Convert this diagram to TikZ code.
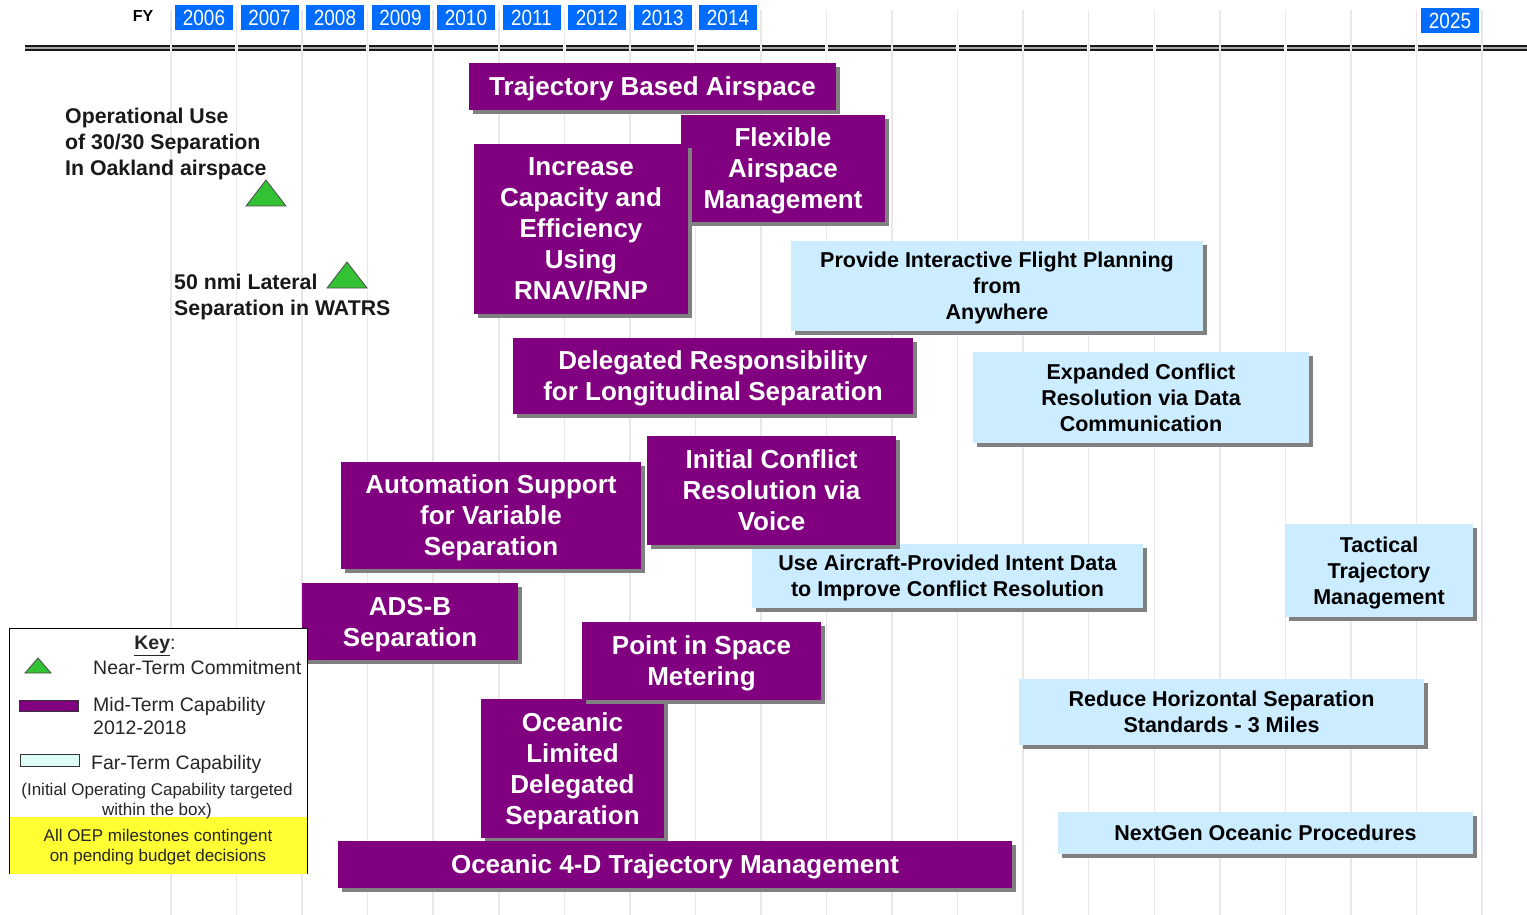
\documentclass[tikz,border=0pt]{standalone}
\usepackage{fontspec}
\setmainfont{Liberation Sans}
\newfontfamily\narrowfont[FakeStretch=0.86]{Liberation Sans}
\usetikzlibrary{shadows}
\definecolor{purp}{RGB}{128,0,128}
\definecolor{lblue}{RGB}{204,236,255}
\definecolor{yrblue}{RGB}{0,108,255}
\definecolor{shgray}{RGB}{128,128,128}
\definecolor{gridc}{RGB}{232,232,232}
\definecolor{trigreen}{RGB}{51,194,51}
\definecolor{farcyan}{RGB}{220,252,245}
\definecolor{keyyellow}{RGB}{255,255,51}
\begin{document}
\begin{tikzpicture}[x=1pt,y=-1pt,
 shad/.style={drop shadow={shadow xshift=4pt,shadow yshift=-4pt,fill=shgray,opacity=1}},
 pbox/.style={shad,fill=purp,text=white,font=\bfseries\fontsize{26}{31}\selectfont,align=center,inner sep=0pt,text depth=0pt},
 bbox/.style={shad,fill=lblue,text=black,font=\bfseries\fontsize{21.5}{26}\selectfont,align=center,inner sep=0pt,text depth=0pt},
 yr/.style={fill=yrblue,text=white,font=\narrowfont\fontsize{22}{22}\selectfont,minimum width=58pt,minimum height=25pt,inner sep=0pt},
 ann/.style={font=\bfseries\fontsize{21.3}{26}\selectfont,align=left,inner sep=0pt,text=black!90,text depth=0pt},
 keytxt/.style={font=\fontsize{19.5}{23}\selectfont,inner sep=0pt,align=left,text=black!85,text depth=0pt},
 keysmall/.style={font=\fontsize{17}{20}\selectfont,inner sep=0pt,align=center,text=black!85,text depth=0pt},
 tri/.style={fill=trigreen,draw=black!70,line width=0.8pt,line join=miter},
 gridl/.style={draw=gridc,line width=1.5pt}
]
\useasboundingbox (0,0) rectangle (1527,915);
\fill[white] (0,0) rectangle (1527,915);

% timeline double line
\draw[line width=6pt,black!90] (25,48) -- (1527,48);
\draw[line width=1.6pt,black!35] (25,48) -- (1527,48);
% grid lines
\foreach \k in {0,...,20}{
  \draw[white,line width=2.5pt] ({171+65.55*\k},43) -- ({171+65.55*\k},53);
  \draw[gridl] ({171+65.55*\k},10) -- ({171+65.55*\k},915);
}

% header
\node[font=\bfseries\fontsize{16}{16}\selectfont,inner sep=0pt] (fy) at (143,16) {FY};
\node[yr] (y2006) at (204,17.5) {2006};
\node[yr] (y2007) at (269.5,17.5) {2007};
\node[yr] (y2008) at (335,17.5) {2008};
\node[yr] (y2009) at (400.5,17.5) {2009};
\node[yr] (y2010) at (466,17.5) {2010};
\node[yr] (y2011) at (531.5,17.5) {2011};
\node[yr] (y2012) at (597,17.5) {2012};
\node[yr] (y2013) at (662.5,17.5) {2013};
\node[yr] (y2014) at (728,17.5) {2014};
\node[yr] (y2025) at (1450,20.5) {2025};

% capability boxes
\node[pbox,minimum width=367pt,minimum height=47pt] (traj) at (652.5,86.5) {Trajectory Based Airspace};
\node[pbox,minimum width=204pt,minimum height=107pt] (flex) at (783,168.5) {Flexible\\Airspace\\Management};
\node[pbox,minimum width=214pt,minimum height=170pt] (incr) at (581,229) {Increase\\Capacity and\\Efficiency\\Using\\RNAV/RNP};
\node[bbox,minimum width=412pt,minimum height=90pt] (prov) at (997,286) {Provide Interactive Flight Planning\\from\\Anywhere};
\node[pbox,minimum width=400pt,minimum height=76pt] (deleg) at (713,376) {Delegated Responsibility\\for Longitudinal Separation};
\node[bbox,minimum width=336pt,minimum height=91pt] (expd) at (1141,397.5) {Expanded Conflict\\Resolution via Data\\Communication};
\node[bbox,minimum width=391pt,minimum height=64pt] (useac) at (947.5,576) {Use Aircraft-Provided Intent Data\\to Improve Conflict Resolution};
\node[pbox,minimum width=300pt,minimum height=107pt] (auto) at (491,515.5) {Automation Support\\for Variable\\Separation};
\node[pbox,minimum width=249pt,minimum height=109pt] (init) at (771.5,490.5) {Initial Conflict\\Resolution via\\Voice};
\node[bbox,minimum width=188pt,minimum height=93pt] (tact) at (1379,570.5) {Tactical\\Trajectory\\Management};
\node[pbox,minimum width=216pt,minimum height=77pt] (adsb) at (410,621.5) {ADS-B\\Separation};
\node[pbox,minimum width=183pt,minimum height=139pt] (oclds) at (572.5,768.5) {Oceanic\\Limited\\Delegated\\Separation};
\node[pbox,minimum width=239pt,minimum height=78pt] (pism) at (701.5,661) {Point in Space\\Metering};
\node[bbox,minimum width=405pt,minimum height=66pt] (reduce) at (1221.5,712) {Reduce Horizontal Separation\\Standards - 3 Miles};
\node[bbox,minimum width=415pt,minimum height=42pt] (nextgen) at (1265.5,833) {NextGen Oceanic Procedures};
\node[pbox,minimum width=674pt,minimum height=47pt] (oc4d) at (675,864.5) {Oceanic 4-D Trajectory Management};

% near-term commitments
\node[ann,anchor=west] (oper) at (65,142) {Operational Use\\of 30/30 Separation\\In Oakland airspace};
\filldraw[tri] (246,206) -- (266,180) -- (286,206) -- cycle;
\node[ann,anchor=west] (watrs) at (174,295) {50 nmi Lateral\\Separation in WATRS};
\filldraw[tri] (327,288) -- (347,262) -- (367,288) -- cycle;

% key
\node[draw=black,line width=1pt,fill=white,minimum width=298pt,minimum height=245pt,inner sep=0pt] (key) at (158,750.5) {};
\node[fill=keyyellow,minimum width=297pt,minimum height=57pt,inner sep=0pt] (yel) at (158,845.5) {};
\node[keytxt] (keyt) at (155,643) {\textbf{\underline{Key}}:};
\filldraw[tri] (25,673) -- (38,658) -- (51,673) -- cycle;
\node[keytxt,anchor=west] (knear) at (93,667) {Near-Term Commitment};
\node[fill=purp,draw=black!80,line width=0.8pt,minimum width=59pt,minimum height=11pt,inner sep=0pt] (kmid) at (48.5,706) {};
\node[keytxt,anchor=west] (kmidt) at (93,715.5) {Mid-Term Capability\\2012-2018};
\node[fill=farcyan,draw=black!80,line width=0.8pt,minimum width=59pt,minimum height=12pt,inner sep=0pt] (kfar) at (49.5,760) {};
\node[keytxt,anchor=west] (kfart) at (91,762) {Far-Term Capability};
\node[keysmall] (kioc) at (157,799) {(Initial Operating Capability targeted\\within the box)};
\node[keysmall] (kbud) at (158,845) {All OEP milestones contingent\\on pending budget decisions};
\end{tikzpicture}
\end{document}
